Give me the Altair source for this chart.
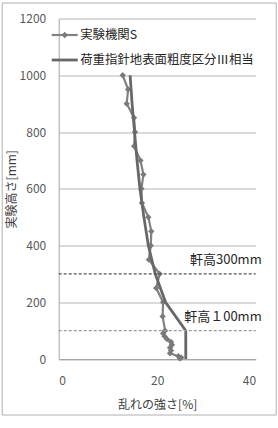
import altair as alt
import pandas as pd

# Experimental series (実験機関S)
exp_height = [1000, 950, 900, 850, 800, 750, 700, 650, 600, 550, 500, 450, 400, 350,
              300, 250, 200, 150, 100, 90, 80, 70, 60, 50, 40, 30, 20, 10, 5, 2]
exp_intensity = [13.0, 14.1, 13.8, 15.3, 15.5, 15.3, 16.6, 17.2, 16.8, 16.9, 18.2, 18.8, 18.7, 18.3,
                 20.5, 19.8, 21.2, 21.1, 21.6, 21.2, 21.5, 22.0, 22.8, 23.0, 22.6, 22.8, 22.6, 24.3, 24.9, 24.6]

# Standard curve (荷重指針 地表面粗度区分Ⅲ相当)
std_height = [0, 100, 200, 300, 400, 500, 600, 700, 800, 900, 1000]
std_intensity = [25.8, 25.8, 21.7, 19.6, 18.2, 17.3, 16.5, 15.9, 15.4, 14.9, 14.5]

# Reference lines
ref_height = [300, 100]
ref_label = ["軒高300mm", "軒高１00mm"]
ref_color = ["#555555", "#9a9a9a"]

legend_labels = ["実験機関S", "荷重指針地表面粗度区分Ⅲ相当"]

y_ticks = [0, 200, 400, 600, 800, 1000, 1200]
x_ticks = [0, 20, 40]

FONT = "Noto Sans CJK JP"
W, H = 197, 340.5
EXP_C, STD_C = "#828282", "#686868"

exp_df = pd.DataFrame({"h": exp_height, "i": exp_intensity})
std_df = pd.DataFrame({"h": std_height, "i": std_intensity})
ref_df = pd.DataFrame({"h": ref_height, "label": ref_label, "c": ref_color})
leg0 = pd.DataFrame({"label": [legend_labels[0]]})
leg1 = pd.DataFrame({"label": [legend_labels[1]]})

xscale = alt.Scale(domain=[0, 40], nice=False)
yscale = alt.Scale(domain=[0, 1200], nice=False)

x_enc = alt.X("i:Q", scale=xscale, title="乱れの強さ[%]",
              axis=alt.Axis(values=x_ticks, grid=False, ticks=False, domain=True,
                            domainColor="#a6a6a6", labelPadding=16, titlePadding=13,
                            labelColor="#595959", labelFontSize=12, labelFont=FONT,
                            titleFont=FONT, titleFontSize=12, titleFontWeight="normal",
                            titleColor="#404040"))
y_enc = alt.Y("h:Q", scale=yscale, title="実験高さ[mm]",
              axis=alt.Axis(values=y_ticks, format="d", grid=True, gridColor="#b5b5b5",
                            ticks=False, domain=True, domainColor="#a6a6a6", labelPadding=13,
                            titlePadding=1, labelColor="#595959", labelFontSize=12,
                            labelFont=FONT, titleFont=FONT, titleFontSize=12,
                            titleFontWeight="normal", titleColor="#404040"))
x_plain = alt.X("i:Q", scale=xscale)
y_plain = alt.Y("h:Q", scale=yscale)

frame = alt.Chart(pd.DataFrame({"a": [0]})).mark_rect(
    fill=None, stroke="#b0b0b0", strokeWidth=1
).encode(x=alt.value(-56.5), x2=alt.value(217.5), y=alt.value(-15.5), y2=alt.value(396.5))

ref_lines = alt.Chart(ref_df).mark_rule(strokeWidth=1.2, strokeDash=[3, 2]).encode(
    y=y_plain, x=alt.value(0), x2=alt.value(W),
    color=alt.Color("c:N", scale=None)
)
ref_text = alt.Chart(ref_df).mark_text(
    align="right", baseline="middle", dx=6, dy=-14, font=FONT, fontSize=13, color="#262626"
).encode(y=y_plain, x=alt.value(W), text="label:N")

exp_line = alt.Chart(exp_df).mark_line(color=EXP_C, strokeWidth=2.2).encode(
    x=x_enc, y=y_enc, order="h:Q")
exp_pts = alt.Chart(exp_df).mark_point(shape="diamond", filled=True, size=40,
                                       color="#7a7a7a", opacity=1).encode(x=x_plain, y=y_plain)
std_line = alt.Chart(std_df).mark_line(color=STD_C, strokeWidth=2.8).encode(
    x=x_plain, y=y_plain, order="h:Q")

# custom legend (inside the plot, top-left)
LY0, LY1 = 16.5, 41.5
leg_rule0 = alt.Chart(leg0).mark_rule(color=EXP_C, strokeWidth=2.2).encode(
    x=alt.value(-7), x2=alt.value(19), y=alt.value(LY0))
leg_pt0 = alt.Chart(leg0).mark_point(shape="diamond", filled=True, size=40,
                                     color="#7a7a7a", opacity=1).encode(
    x=alt.value(6), y=alt.value(LY0))
leg_text0 = alt.Chart(leg0).mark_text(align="left", baseline="middle",
                                      font=FONT, fontSize=12.4, color="#262626").encode(
    x=alt.value(21.5), y=alt.value(LY0), text="label:N")
leg_rule1 = alt.Chart(leg1).mark_rule(color=STD_C, strokeWidth=2.8).encode(
    x=alt.value(-7), x2=alt.value(19), y=alt.value(LY1))
leg_text1 = alt.Chart(leg1).mark_text(align="left", baseline="middle",
                                      font=FONT, fontSize=12.4, color="#262626").encode(
    x=alt.value(21.5), y=alt.value(LY1), text="label:N")

chart = alt.layer(
    frame, exp_line, exp_pts, std_line, ref_lines, ref_text,
    leg_rule0, leg_pt0, leg_text0, leg_rule1, leg_text1
).properties(
    width=W, height=H,
    autosize=alt.AutoSizeParams(type="none"),
    padding={"left": 58.7, "top": 18.5, "right": 278 - 58.7 - W, "bottom": 428 - 18.5 - H},
    background="white",
).configure_view(stroke=None)

chart.save("out.html", embed_options={"renderer": "svg", "actions": False})
